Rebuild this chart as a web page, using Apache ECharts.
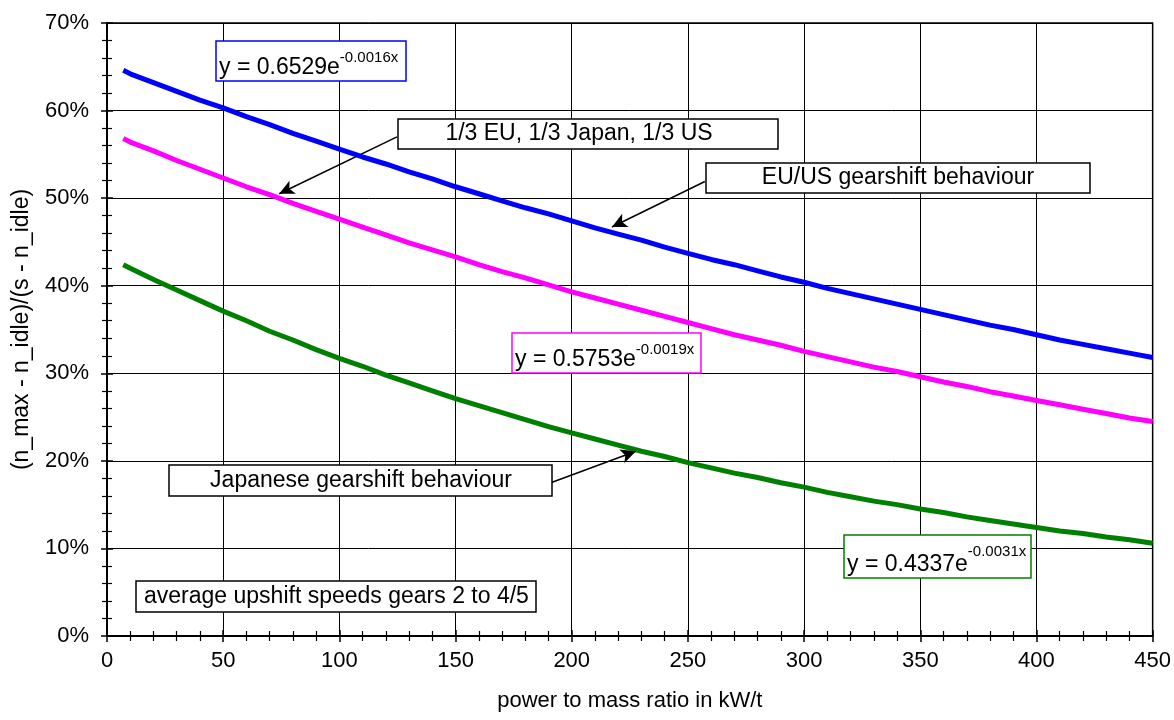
<!DOCTYPE html>
<html>
<head>
<meta charset="utf-8">
<script src="https://cdn.jsdelivr.net/npm/echarts@6/dist/echarts.min.js"></script>
<style>
html,body{margin:0;padding:0;background:#fff;}
#chart{width:1174px;height:720px;}
</style>
</head>
<body>
<div id="chart"></div>
<script>
// ---- data (values in %) ----
const powerToMass = [7,10,20,30,40,50,60,70,80,90,100,110,120,130,140,150,160,170,180,190,200,210,220,230,240,250,260,270,280,290,300,310,320,330,340,350,360,370,380,390,400,410,420,430,440,450];
const euUsShare = [64.6,64.2,63.2,62.2,61.2,60.3,59.3,58.4,57.4,56.5,55.6,54.7,53.9,53.0,52.2,51.3,50.5,49.7,48.9,48.2,47.4,46.6,45.9,45.2,44.4,43.7,43.0,42.4,41.7,41.0,40.4,39.7,39.1,38.5,37.9,37.3,36.7,36.1,35.5,35.0,34.4,33.8,33.3,32.8,32.3,31.8];
const mixedShare = [56.8,56.4,55.4,54.3,53.3,52.3,51.3,50.4,49.4,48.5,47.6,46.7,45.8,44.9,44.1,43.3,42.4,41.6,40.9,40.1,39.3,38.6,37.9,37.2,36.5,35.8,35.1,34.4,33.8,33.2,32.5,31.9,31.3,30.7,30.2,29.6,29.0,28.5,27.9,27.4,26.9,26.4,25.9,25.4,24.9,24.5];
const japanShare = [42.4,42.0,40.7,39.5,38.3,37.1,36.0,34.8,33.8,32.7,31.7,30.8,29.8,28.9,28.0,27.1,26.3,25.5,24.7,23.9,23.2,22.5,21.8,21.1,20.5,19.8,19.2,18.6,18.1,17.5,17.0,16.4,15.9,15.4,15.0,14.5,14.1,13.6,13.2,12.8,12.4,12.0,11.7,11.3,11.0,10.6];
const xTicks = {min:0, max:450, interval:50};
const yTicks = {min:0, max:70, interval:10};
const equations = [
  {base:'y = 0.6529e', exp:'-0.0016x'},
  {base:'y = 0.5753e', exp:'-0.0019x'},
  {base:'y = 0.4337e', exp:'-0.0031x'}
];
const labels = ['1/3 EU, 1/3 Japan, 1/3 US','EU/US gearshift behaviour','Japanese gearshift behaviour','average upshift speeds gears 2 to 4/5'];
const xTitle = 'power to mass ratio in kW/t';
const yTitle = '(n_max - n_idle)/(s - n_idle)';

const FONT = '"Liberation Sans", Arial, sans-serif';
const zip = (xs, ys) => xs.map((x, i) => [x, ys[i]]);

const chart = echarts.init(document.getElementById('chart'), null, {renderer:'canvas'});

const ctx = document.createElement('canvas').getContext('2d');
function textW(t, size){ ctx.font = size + 'px "Liberation Sans"'; return ctx.measureText(t).width; }

function eqBox(eq, x0, y0, w, h, color){
  const bw = textW(eq.base, 23);
  return [
    {type:'rect', z:100, shape:{x:x0, y:y0, width:w, height:h}, style:{fill:'#fff', stroke:color, lineWidth:1.5}},
    {type:'text', z:101, x:x0+3, y:y0+h-13, style:{text:eq.base, font:'23px '+FONT, fill:'#000', textVerticalAlign:'middle'}},
    {type:'text', z:101, x:x0+3+bw, y:y0+17, style:{text:eq.exp, font:'15px '+FONT, fill:'#000', textVerticalAlign:'middle'}}
  ];
}
function txtBox(t, x0, y0, w, h, tx, align){
  return [
    {type:'rect', z:100, shape:{x:x0, y:y0, width:w, height:h}, style:{fill:'#fff', stroke:'#000', lineWidth:1.5}},
    {type:'text', z:101, x:tx, y:y0+h/2, style:{text:t, font:'23px '+FONT, fill:'#000', textAlign:align, textVerticalAlign:'middle'}}
  ];
}

const axisCommon = {type:'value'};
const option = {
  animation:false,
  backgroundColor:'#fff',
  grid:{left:107, right:21, top:23, bottom:84, show:true, borderColor:'#000', borderWidth:1.5},
  xAxis:[
    Object.assign({}, axisCommon, {
      min:xTicks.min, max:xTicks.max, interval:xTicks.interval,
      name:xTitle, nameLocation:'middle', nameGap:54,
      nameTextStyle:{fontFamily:FONT, fontSize:22, color:'#000'},
      axisLine:{show:true, lineStyle:{color:'#000', width:2}},
      axisTick:{show:true, inside:false, length:6, lineStyle:{color:'#000', width:1.5}},
      minorTick:{show:true, splitNumber:5, length:5, lineStyle:{color:'#000', width:1.2}},
      splitLine:{show:true, lineStyle:{color:'#000', width:1}},
      axisLabel:{fontFamily:FONT, fontSize:22, color:'#000', margin:14}
    }),
    Object.assign({}, axisCommon, {
      min:xTicks.min, max:xTicks.max, interval:xTicks.interval, position:'bottom',
      axisLine:{show:false},
      axisTick:{show:true, inside:true, length:6, lineStyle:{color:'#000', width:1.5}},
      minorTick:{show:true, splitNumber:5, length:5, lineStyle:{color:'#000', width:1.2}},
      splitLine:{show:false}, axisLabel:{show:false}
    })
  ],
  yAxis:[
    Object.assign({}, axisCommon, {
      min:yTicks.min, max:yTicks.max, interval:yTicks.interval,
      name:yTitle, nameLocation:'middle', nameGap:74,
      nameTextStyle:{fontFamily:FONT, fontSize:23, color:'#000'},
      axisLine:{show:true, lineStyle:{color:'#000', width:2}},
      axisTick:{show:true, inside:false, length:6, lineStyle:{color:'#000', width:1.5}},
      minorTick:{show:true, splitNumber:5, length:5, lineStyle:{color:'#000', width:1.2}},
      splitLine:{show:true, lineStyle:{color:'#000', width:1}},
      axisLabel:{fontFamily:FONT, fontSize:22, color:'#000', margin:18, formatter:'{value}%'}
    }),
    Object.assign({}, axisCommon, {
      min:yTicks.min, max:yTicks.max, interval:yTicks.interval, position:'left',
      axisLine:{show:false},
      axisTick:{show:true, inside:true, length:6, lineStyle:{color:'#000', width:1.5}},
      minorTick:{show:true, splitNumber:5, length:5, lineStyle:{color:'#000', width:1.2}},
      splitLine:{show:false}, axisLabel:{show:false}
    })
  ],
  series:[
    {type:'line', name:'Japan', data:zip(powerToMass, japanShare), showSymbol:false, symbol:'none',
     lineStyle:{color:'#008000', width:5}, itemStyle:{color:'#008000'}, z:3},
    {type:'line', name:'Mixed', data:zip(powerToMass, mixedShare), showSymbol:false, symbol:'none',
     lineStyle:{color:'#FF00FF', width:5}, itemStyle:{color:'#FF00FF'}, z:4},
    {type:'line', name:'EU/US', data:zip(powerToMass, euUsShare), showSymbol:false, symbol:'none',
     lineStyle:{color:'#0000FF', width:5}, itemStyle:{color:'#0000FF'}, z:5},
    {type:'line', name:'arrows', data:[], z:6,
     markLine:{silent:true, symbol:['none','arrow'], symbolSize:[11,15], label:{show:false},
       lineStyle:{color:'#000', width:1.5, type:'solid'},
       data:[
         [{coord:[124.8,57.0]},{coord:[74.1,50.5]}],
         [{coord:[257.3,51.9]},{coord:[217.3,46.7]}],
         [{coord:[191.0,17.5]},{coord:[227.6,21.1]}]
       ]}}
  ],
  graphic:[].concat(
    eqBox(equations[0], 216, 41, 190, 40, '#0000FF'),
    eqBox(equations[1], 512, 333, 189, 40, '#FF00FF'),
    eqBox(equations[2], 844, 535, 187, 43, '#008000'),
    txtBox(labels[0], 398, 119, 380, 30, 579, 'center'),
    txtBox(labels[1], 706, 163, 384, 30, 898, 'center'),
    txtBox(labels[2], 169, 465, 383, 31, 361, 'center'),
    txtBox(labels[3], 136, 581, 400, 31, 144, 'left')
  )
};
chart.setOption(option);
</script>
</body>
</html>
